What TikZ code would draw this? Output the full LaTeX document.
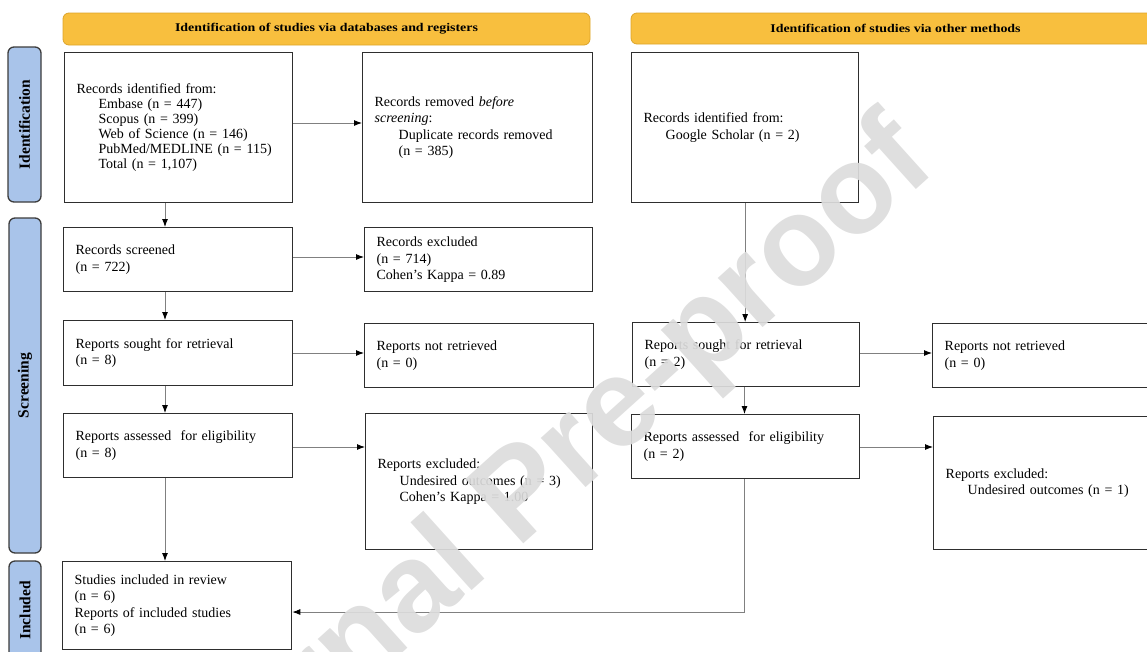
\documentclass[tikz,border=0pt]{standalone}
\usepackage{fontspec}
\setmainfont{Liberation Serif}
\newfontfamily\wmfont{Liberation Sans}
\usetikzlibrary{arrows.meta}
\definecolor{hdrfill}{HTML}{F8BF3E}
\definecolor{hdrdraw}{HTML}{DCA42A}
\definecolor{sidefill}{HTML}{A9C4EA}
\definecolor{sidedraw}{HTML}{3C3C3C}
\definecolor{boxdraw}{HTML}{2E2E2E}
\definecolor{linegray}{HTML}{808080}
\definecolor{wmgray}{HTML}{DCDCDC}
\newcommand{\ind}{\hspace*{22pt}}
\newcommand{\hdrtext}[1]{\scalebox{1.18}[1]{\fontsize{11.8}{12}\selectfont\bfseries #1}}
\begin{document}
\begin{tikzpicture}[x=1pt,y=-1pt,
  box/.style={draw=boxdraw, line width=1.3pt, anchor=north west, inner xsep=12pt, inner ysep=2pt,
    align=left, font=\fontsize{14}{16.5}\selectfont},
  hdr/.style={draw=hdrdraw, fill=hdrfill, rounded corners=6pt, line width=0.8pt, inner sep=0pt},
  side/.style={draw=sidedraw, fill=sidefill, rounded corners=6pt, line width=1.3pt, rotate=90,
    inner sep=0pt, font=\fontsize{15.5}{15.5}\selectfont\bfseries},
  conn/.style={draw=linegray, line width=0.9pt, -{Latex[length=8pt,width=6pt,color=black]}},
]
\useasboundingbox (0,0) rectangle (1147,651);
\clip (0,0) rectangle (1147,651);

% headers
\node[hdr, minimum width=527pt, minimum height=32pt] (h1) at (326.5,29) {\hdrtext{Identification of studies via databases and registers}};
\node[hdr, minimum width=529pt, minimum height=31pt] (h2) at (895.5,28.5) {\hdrtext{Identification of studies via other methods}};

% side labels
\node[side, minimum width=155pt, minimum height=33pt] (s1) at (24.5,124.5) {Identification};
\node[side, minimum width=335pt, minimum height=32pt] (s2) at (25,385.5) {Screening};
\node[side, minimum width=99pt, minimum height=32pt] (s3) at (25,610.5) {Included};

% boxes
\node[box, minimum width=228pt, minimum height=150pt, text width=204pt, font=\fontsize{14}{15}\selectfont] (A) at (64,52)
  {Records identified from:\\ \ind Embase (n = 447)\\ \ind Scopus (n = 399)\\ \ind Web of Science (n = 146)\\ \ind PubMed/MEDLINE (n = 115)\\ \ind Total (n = 1,107)};
\node[box, minimum width=230pt, minimum height=150pt, text width=206pt] (B) at (362,52)
  {Records removed \textit{before}\\ \textit{screening}:\\ \hspace*{24pt}Duplicate records removed\\ \hspace*{24pt}(n = 385)};
\node[box, minimum width=227pt, minimum height=150pt, text width=203pt] (C) at (631,52)
  {Records identified from:\\ \ind Google Scholar (n = 2)};
\node[box, minimum width=229pt, minimum height=64pt, text width=205pt] (D) at (63,227)
  {Records screened\\ (n = 722)};
\node[box, minimum width=228pt, minimum height=64pt, text width=204pt] (E) at (364,227)
  {Records excluded\\ (n = 714)\\ Cohen’s Kappa = 0.89};
\node[box, minimum width=229pt, minimum height=65pt, text width=205pt] (F) at (63,320)
  {Reports sought for retrieval\\ (n = 8)};
\node[box, minimum width=229pt, minimum height=64pt, text width=205pt] (G) at (364,323)
  {Reports not retrieved\\ (n = 0)};
\node[box, minimum width=229pt, minimum height=64pt, text width=205pt] (H) at (63,413)
  {Reports assessed \ for eligibility\\ (n = 8)};
\node[box, minimum width=227pt, minimum height=136pt, text width=203pt] (I) at (365,413)
  {Reports excluded:\\ \ind Undesired outcomes (n = 3)\\ \ind Cohen’s Kappa = 1.00};
\node[box, minimum width=229pt, minimum height=88pt, text width=205pt] (J) at (62,561)
  {Studies included in review\\ (n = 6)\\ Reports of included studies\\ (n = 6)};
\node[box, minimum width=227pt, minimum height=64pt, text width=203pt] (K) at (632,322)
  {Reports sought for retrieval\\ (n = 2)};
\node[box, minimum width=240pt, minimum height=64pt, text width=216pt] (L) at (932,323)
  {Reports not retrieved\\ (n = 0)};
\node[box, minimum width=228pt, minimum height=64pt, text width=204pt] (M) at (631,414)
  {Reports assessed \ for eligibility\\ (n = 2)};
\node[box, minimum width=240pt, minimum height=133pt, text width=216pt] (N) at (933,416)
  {Reports excluded:\\ \ind Undesired outcomes (n = 1)};

% connectors
\coordinate (xl) at (165,0);
\coordinate (y1) at (0,123);
\coordinate (y2) at (0,257);
\coordinate (y3) at (0,353);
\coordinate (y4) at (0,447);
\coordinate (bend) at (744.5,612);
\draw[conn] (A.south -| xl) -- (D.north -| xl);
\draw[conn] (D.south -| xl) -- (F.north -| xl);
\draw[conn] (F.south -| xl) -- (H.north -| xl);
\draw[conn] (H.south -| xl) -- (J.north -| xl);
\draw[conn] (A.east |- y1) -- (B.west |- y1);
\draw[conn] (D.east |- y2) -- (E.west |- y2);
\draw[conn] (F.east |- y3) -- (G.west |- y3);
\draw[conn] (H.east |- y4) -- (I.west |- y4);
\draw[conn] (K.east |- y3) -- (L.west |- y3);
\draw[conn] (M.east |- y4) -- (N.west |- y4);
\draw[conn] (C.south) -- (C.south |- K.north);
\draw[conn] (K.south -| bend) -- (M.north -| bend);
\draw[conn] (M.south -| bend) -- (bend) -- (J.east |- bend);

% watermark
\node[rotate=42, anchor=base east, inner sep=0pt, text=wmgray, text opacity=0.92,
  font=\fontsize{126}{126}\selectfont\wmfont\bfseries] (wm) at (939,169.7) {Journal Pre-proof};
\end{tikzpicture}
\end{document}
